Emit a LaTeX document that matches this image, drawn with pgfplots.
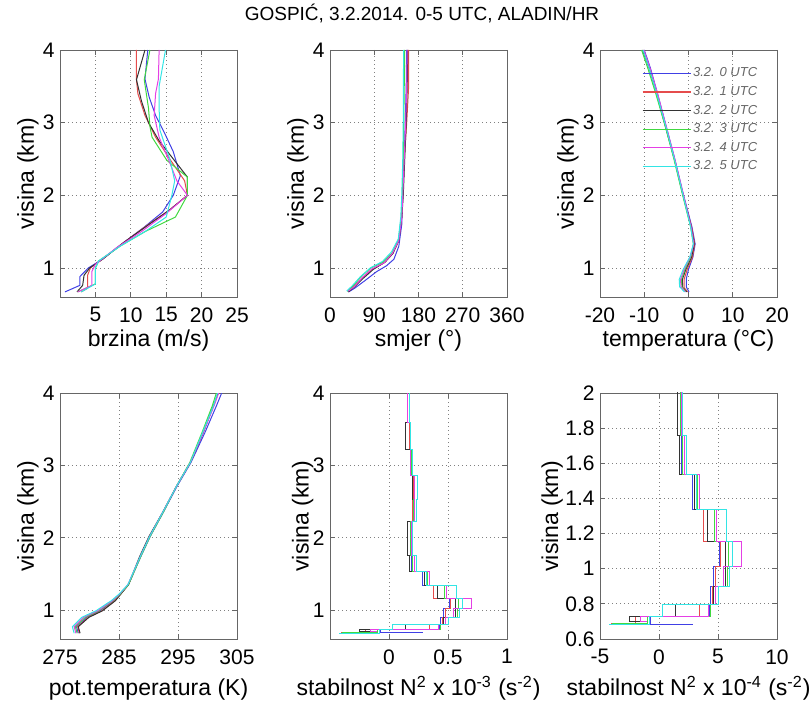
\documentclass[border=0pt]{standalone}
\usepackage{fontspec}
\setmainfont{Liberation Sans}
\usepackage{pgfplots}
\usepackage{pgfplotstable}
\pgfplotsset{compat=1.18}

\definecolor{cB}{rgb}{0.25,0.25,0.9}
\definecolor{cR}{rgb}{0.9,0.3,0.3}
\definecolor{cK}{rgb}{0.2,0.2,0.2}
\definecolor{cG}{rgb}{0.25,0.85,0.25}
\definecolor{cM}{rgb}{0.9,0.25,0.9}
\definecolor{cC}{rgb}{0.2,0.9,0.9}

% N^2 stairs, x in units of 1e-4 s^-2
\pgfplotstableread[row sep=\\]{x y\\ 1.7 4.0\\ 1.7 3.59\\ 1.8 3.59\\ 1.8 3.22\\ 1.9 3.22\\ 1.9 2.86\\ 2.1 2.86\\ 2.1 2.23\\ 1.9 2.23\\ 1.9 1.538\\ 2.8 1.538\\ 2.8 1.338\\ 3.8 1.338\\ 3.8 1.157\\ 5.1 1.157\\ 5.1 1.015\\ 4.6 1.015\\ 4.6 0.90\\ 4.4 0.90\\ 4.4 0.796\\ 4.3 0.796\\ 4.3 0.729\\ -0.7 0.729\\ -0.7 0.685\\ 2.9 0.685\\}\nB
\pgfplotstableread[row sep=\\]{x y\\ 1.6 4.0\\ 1.6 3.59\\ 1.7 3.59\\ 1.7 3.22\\ 1.9 3.22\\ 1.9 2.86\\ 2.1 2.86\\ 2.1 2.53\\ 2.0 2.53\\ 2.0 2.23\\ 1.8 2.23\\ 1.8 1.757\\ 1.7 1.757\\ 1.7 1.538\\ 3.0 1.538\\ 3.0 1.338\\ 3.8 1.338\\ 3.8 1.157\\ 5.2 1.157\\ 5.2 1.015\\ 4.8 1.015\\ 4.8 0.90\\ 4.5 0.90\\ 4.5 0.796\\ 3.4 0.796\\ 3.4 0.729\\ -2.0 0.729\\ -2.0 0.69\\ -4.1 0.69\\}\nR
\pgfplotstableread[row sep=\\]{x y\\ 1.6 4.0\\ 1.6 3.59\\ 1.4 3.59\\ 1.4 3.22\\ 1.8 3.22\\ 1.8 2.86\\ 2.0 2.86\\ 2.0 2.53\\ 2.2 2.53\\ 2.2 2.23\\ 1.6 2.23\\ 1.6 1.757\\ 1.7 1.757\\ 1.7 1.538\\ 3.0 1.538\\ 3.0 1.338\\ 4.1 1.338\\ 4.1 1.157\\ 5.6 1.157\\ 5.6 0.90\\ 4.6 0.90\\ 4.6 0.796\\ 1.4 0.796\\ 1.4 0.729\\ -2.5 0.729\\ -2.5 0.70\\ -1.5 0.70\\}\nK
\pgfplotstableread[row sep=\\]{x y\\ 1.7 4.0\\ 1.7 3.59\\ 1.8 3.59\\ 1.8 3.22\\ 1.9 3.22\\ 1.9 2.86\\ 2.2 2.86\\ 2.2 2.53\\ 2.1 2.53\\ 2.1 2.23\\ 1.8 2.23\\ 1.8 1.757\\ 2.0 1.757\\ 2.0 1.538\\ 3.3 1.538\\ 3.3 1.338\\ 4.7 1.338\\ 4.7 1.157\\ 5.9 1.157\\ 5.9 1.015\\ 5.8 1.015\\ 5.8 0.90\\ 5.0 0.90\\ 5.0 0.796\\ 4.4 0.796\\ 4.4 0.729\\ -1.0 0.729\\ -1.0 0.687\\ -4.0 0.687\\}\nG
\pgfplotstableread[row sep=\\]{x y\\ 1.6 4.0\\ 1.6 3.59\\ 1.8 3.59\\ 1.8 2.86\\ 2.2 2.86\\ 2.2 2.23\\ 1.9 2.23\\ 1.9 1.757\\ 2.2 1.757\\ 2.2 1.538\\ 3.4 1.538\\ 3.4 1.338\\ 4.9 1.338\\ 4.9 1.157\\ 7.0 1.157\\ 7.0 1.015\\ 5.5 1.015\\ 5.5 0.90\\ 4.8 0.90\\ 4.8 0.796\\ 4.2 0.796\\ 4.2 0.729\\ -1.6 0.729\\ -1.6 0.70\\ -1.0 0.70\\}\nM
\pgfplotstableread[row sep=\\]{x y\\ 1.7 4.0\\ 1.7 3.59\\ 1.8 3.59\\ 1.8 3.22\\ 2.0 3.22\\ 2.0 2.86\\ 2.4 2.86\\ 2.4 2.53\\ 2.3 2.53\\ 2.3 2.23\\ 2.0 2.23\\ 2.0 1.757\\ 2.3 1.757\\ 2.3 1.538\\ 3.2 1.538\\ 3.2 1.338\\ 5.7 1.338\\ 5.7 1.157\\ 6.2 1.157\\ 6.2 1.015\\ 6.0 1.015\\ 6.0 0.90\\ 5.0 0.90\\ 5.0 0.796\\ 0.3 0.796\\ 0.3 0.729\\ -0.8 0.729\\ -0.8 0.682\\ -4.2 0.682\\}\nC

\pgfplotsset{
  panel/.style={
    scale only axis, width=88.5pt, height=123.5pt,
    axis line style={black!60},
    tick style={black!60, line width=0.4pt},
    tick align=inside, major tick length=2.5pt,
    grid=major,
    major grid style={black!50, line width=0.4pt, dash pattern=on 0.5pt off 1.5pt},
    /pgf/number format/assume math mode=true,
    ticklabel style={font=\fontsize{10.5}{12}\selectfont, inner sep=0pt},
    yticklabel style={xshift=-2.5pt},
    xticklabel style={yshift=-5pt},
    label style={font=\fontsize{11.5}{13}\selectfont},
    ylabel={visina (km)},
    ylabel style={at={(axis description cs:-0.181,0.5)}, anchor=center},
    xlabel style={at={(axis description cs:0.5,0)}, anchor=base, yshift=-25pt},
    ymin=0.6, ymax=4, ytick={1,2,3,4},
    every axis plot/.append style={line width=0.5pt, mark=none},
    cycle list={{cB},{cR},{cK},{cG},{cM},{cC}},
  },
  low/.style={height=123pt, xlabel style={yshift=-3.5pt}},
}

\begin{document}
\begin{tikzpicture}
\useasboundingbox (0,0) rectangle (405pt,-352.5pt);
\node[font=\fontsize{9.5}{11}\selectfont, anchor=base] at (211pt,-10.5pt) {GOSPIĆ, 3.2.2014. 0-5 UTC, ALADIN/HR};

% brzina
\begin{axis}[panel, at={(30pt,-148.5pt)}, anchor=south west,
  xmin=0, xmax=25, xtick={5,10,15,20,25}, xlabel={brzina (m/s)}]
\addplot coordinates {(0.7,0.67) (2.8,0.76) (2.8,0.88) (4.0,1.0) (6.0,1.12) (9.0,1.35) (12.0,1.57) (14.5,1.77) (16.0,2.0) (17.0,2.27) (16.0,2.6) (14.8,2.85) (13.5,3.1) (12.6,3.35) (12.0,3.6) (12.4,4.0)};
\addplot coordinates {(3.0,0.67) (3.9,0.72) (3.9,0.9) (4.3,1.0) (6.0,1.12) (9.0,1.35) (12.5,1.6) (15.5,1.8) (18.0,2.0) (17.6,2.2) (15.5,2.5) (13.5,2.8) (12.0,3.1) (11.0,3.4) (10.8,3.59) (10.8,4.0)};
\addplot coordinates {(2.4,0.67) (3.2,0.76) (3.4,0.9) (4.2,1.0) (6.0,1.12) (9.0,1.35) (12.3,1.58) (15.5,1.8) (18.0,2.0) (18.0,2.25) (16.0,2.5) (14.0,2.75) (12.5,3.0) (11.5,3.3) (10.8,3.59) (12.0,4.0)};
\addplot coordinates {(2.5,0.67) (5.0,0.78) (5.0,1.0) (5.5,1.1) (8.5,1.3) (12.0,1.5) (16.3,1.7) (18.0,2.0) (18.0,2.25) (15.1,2.48) (13.0,2.8) (12.7,2.95) (12.5,3.2) (11.9,3.59) (12.7,4.0)};
\addplot coordinates {(2.5,0.67) (4.5,0.76) (4.5,0.95) (5.0,1.05) (8.0,1.28) (11.5,1.5) (15.0,1.75) (18.0,2.0) (16.5,2.2) (15.5,2.45) (14.0,2.8) (13.3,3.1) (13.5,3.4) (13.9,3.6) (14.0,4.0)};
\addplot coordinates {(3.0,0.67) (5.0,0.78) (5.0,1.0) (5.5,1.1) (8.5,1.3) (12.0,1.5) (15.0,1.7) (15.8,2.0) (16.2,2.2) (15.5,2.5) (14.1,2.9) (14.0,3.2) (14.0,3.5) (14.9,4.0)};
\end{axis}

% smjer
\begin{axis}[panel, at={(165pt,-148.5pt)}, anchor=south west,
  xmin=0, xmax=360, xtick={0,90,180,270,360}, xlabel={smjer (°)}]
\addplot coordinates {(38,0.67) (50,0.72) (70,0.82) (95,0.95) (115,1.03) (130,1.12) (140,1.3) (146,1.6) (148,2.0) (151,2.5) (153,3.0) (155,3.5) (156,4.0)};
\addplot coordinates {(36,0.68) (48,0.74) (65,0.86) (85,0.98) (110,1.07) (128,1.2) (140,1.38) (146,1.7) (148,2.0) (151,2.5) (156,3.0) (160,3.5) (160,4.0)};
\addplot coordinates {(37,0.67) (50,0.74) (68,0.86) (88,0.98) (112,1.08) (128,1.2) (140,1.38) (146,1.7) (149,2.0) (152,2.5) (155,3.0) (157,3.5) (158,4.0)};
\addplot coordinates {(35,0.68) (47,0.75) (63,0.88) (83,1.0) (108,1.08) (126,1.2) (139,1.38) (145,1.7) (147,2.0) (149,2.5) (150,3.0) (151,3.5) (152,4.0)};
\addplot coordinates {(37,0.68) (49,0.74) (66,0.87) (86,0.99) (110,1.07) (127,1.2) (140,1.38) (146,1.7) (148,2.0) (151,2.5) (154,3.0) (156,3.5) (157,4.0)};
\addplot coordinates {(34,0.68) (46,0.76) (62,0.88) (82,1.0) (107,1.09) (125,1.22) (139,1.4) (144,1.7) (146,2.0) (148,2.5) (149,3.0) (149,3.5) (150,4.0)};
\end{axis}

% temperatura
\begin{axis}[panel, at={(300pt,-148.5pt)}, anchor=south west,
  xmin=-20, xmax=20, xtick={-20,-10,0,10,20}, xlabel={temperatura (°C)},
  legend style={draw=none, fill=none, at={(0.237,0.94)}, anchor=north west,
    inner sep=0pt, outer sep=0pt, row sep=0.8pt,
    font=\fontsize{6.5}{7}\selectfont\itshape, text=black!60,
    nodes={inner sep=1pt, text height=5pt, text depth=1.5pt}},
  legend image code/.code={\draw[#1, line width=0.6pt] (0pt,0pt) -- (24pt,0pt);},
  legend cell align=left]
\addplot coordinates {(0.1,0.67) (-0.5,0.74) (-0.5,0.85) (0,0.98) (1.0,1.15) (1.5,1.33) (0.8,1.56) (-1.2,2.02) (-3.1,2.5) (-5.0,2.94) (-7.0,3.4) (-8.6,3.75) (-10.0,4.0)};
\addplot coordinates {(-0.2,0.67) (-1.0,0.73) (-1.0,0.84) (-0.3,0.98) (0.9,1.15) (1.4,1.33) (0.7,1.56) (-1.3,2.02) (-3.2,2.5) (-5.1,2.94) (-7.1,3.4) (-8.8,3.75) (-10.2,4.0)};
\addplot coordinates {(-0.4,0.67) (-1.3,0.73) (-1.4,0.84) (-0.6,0.98) (0.7,1.15) (1.3,1.33) (0.6,1.56) (-1.3,2.02) (-3.2,2.5) (-5.2,2.94) (-7.2,3.4) (-8.9,3.75) (-10.4,4.0)};
\addplot coordinates {(-0.6,0.67) (-1.5,0.74) (-1.6,0.84) (-0.8,0.98) (0.5,1.15) (1.1,1.33) (0.5,1.56) (-1.4,2.02) (-3.3,2.5) (-5.2,2.94) (-7.4,3.4) (-9.2,3.75) (-10.6,4.0)};
\addplot coordinates {(-0.7,0.67) (-1.7,0.74) (-1.8,0.84) (-1.0,0.98) (0.4,1.15) (1.2,1.33) (0.6,1.56) (-1.2,2.02) (-3.1,2.5) (-5.0,2.94) (-7.0,3.4) (-8.7,3.75) (-10.1,4.0)};
\addplot coordinates {(-0.9,0.67) (-2.0,0.74) (-2.1,0.84) (-1.2,0.98) (0.3,1.15) (1.1,1.33) (0.5,1.56) (-1.3,2.02) (-3.2,2.5) (-5.1,2.94) (-7.2,3.4) (-8.9,3.75) (-10.3,4.0)};
\legend{3.2. 0 UTC, 3.2. 1 UTC, 3.2. 2 UTC, 3.2. 3 UTC, 3.2. 4 UTC, 3.2. 5 UTC}
\end{axis}

% pot. temperatura
\begin{axis}[panel, low, at={(30pt,-319.5pt)}, anchor=south west,
  xmin=275, xmax=305, xtick={275,285,295,305}, xlabel={pot.temperatura (K)}]
\addplot coordinates {(278.1,0.68) (277.8,0.77) (279.5,0.9) (281.8,0.99) (284.1,1.13) (285.2,1.22) (286.6,1.35) (288.7,1.74) (290.3,2.02) (292.5,2.35) (294.9,2.72) (297.2,3.04) (299.6,3.46) (301.5,3.82) (302.4,4.0)};
\addplot coordinates {(278.3,0.68) (278.0,0.77) (279.8,0.9) (282.1,0.99) (284.3,1.13) (285.3,1.22) (286.6,1.35) (288.6,1.74) (290.2,2.02) (292.4,2.35) (294.8,2.72) (297.1,3.04) (299.3,3.46) (301.0,3.82) (301.8,4.0)};
\addplot coordinates {(278.4,0.68) (278.1,0.77) (279.9,0.9) (282.2,0.99) (284.4,1.13) (285.3,1.22) (286.6,1.35) (288.5,1.74) (290.1,2.02) (292.4,2.35) (294.8,2.72) (297.1,3.04) (299.3,3.46) (301.0,3.82) (301.8,4.0)};
\addplot coordinates {(277.9,0.68) (277.6,0.77) (279.3,0.9) (281.6,0.99) (284.0,1.13) (285.2,1.22) (286.6,1.35) (288.7,1.74) (290.3,2.02) (292.5,2.35) (294.8,2.72) (297.0,3.04) (299.1,3.46) (300.8,3.82) (301.5,4.0)};
\addplot coordinates {(277.7,0.68) (277.4,0.77) (279.0,0.9) (281.4,0.99) (283.9,1.13) (285.1,1.22) (286.5,1.35) (288.6,1.74) (290.2,2.02) (292.4,2.35) (294.8,2.72) (297.1,3.04) (299.3,3.46) (301.1,3.82) (301.9,4.0)};
\addplot coordinates {(277.4,0.68) (277.1,0.77) (278.7,0.9) (281.1,0.99) (283.7,1.13) (285.0,1.22) (286.5,1.35) (288.6,1.74) (290.2,2.02) (292.4,2.35) (294.8,2.72) (297.1,3.04) (299.2,3.46) (301.0,3.82) (301.7,4.0)};
\end{axis}

% stabilnost 1e-3
\begin{axis}[panel, low, at={(165pt,-319.5pt)}, anchor=south west,
  xmin=-5, xmax=10, xtick={0,5,10}, xticklabels={0,0.5,1},
  ylabel style={at={(axis description cs:-0.155,0.5)}},
  xlabel={stabilnost N\textsuperscript{2} x 10\textsuperscript{-3} (s\textsuperscript{-2})}]
\addplot table {\nB};
\addplot table {\nR};
\addplot table {\nK};
\addplot table {\nG};
\addplot table {\nM};
\addplot table {\nC};
\end{axis}

% stabilnost 1e-4
\begin{axis}[panel, low, at={(300pt,-319.5pt)}, anchor=south west,
  xmin=-5, xmax=10, xtick={-5,0,5,10},
  ymin=0.6, ymax=2, ytick={0.6,0.8,1,1.2,1.4,1.6,1.8,2},
  yticklabels={0.6,0.8,1,1.2,1.4,1.6,1.8,2},
  ylabel style={at={(axis description cs:-0.27,0.5)}},
  xlabel={stabilnost N\textsuperscript{2} x 10\textsuperscript{-4} (s\textsuperscript{-2})}]
\addplot table {\nB};
\addplot table {\nR};
\addplot table {\nK};
\addplot table {\nG};
\addplot table {\nM};
\addplot table {\nC};
\end{axis}
\end{tikzpicture}
\end{document}
